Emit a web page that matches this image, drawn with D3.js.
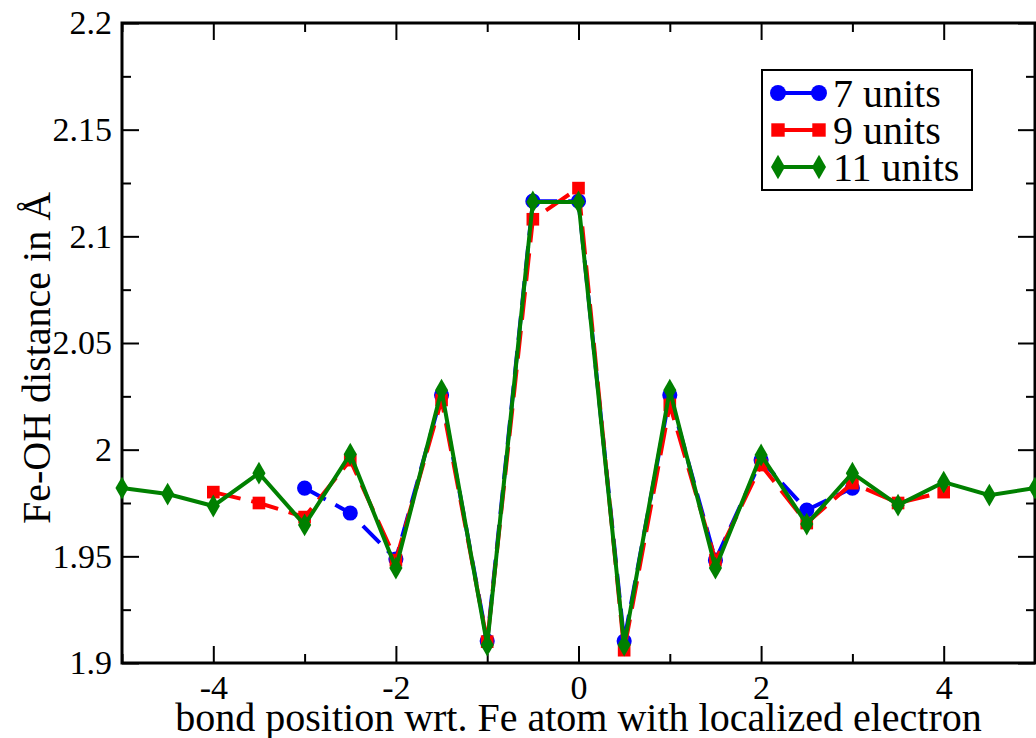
<!DOCTYPE html>
<html lang="en">
  <head>
    <meta charset="utf-8" />
    <title>Fe-OH distance</title>
    <script src="https://d3js.org/d3.v7.min.js"></script>
    <style>
      body { margin: 0; background: #fff; }
    </style>
  </head>
  <body>
    <div id="container"></div>
    <script>
      // bond positions for each cell size
      var pos7 = [-3, -2.5, -2, -1.5, -1, -0.5, 0, 0.5, 1, 1.5, 2, 2.5, 3];
      var val7 = [1.982, 1.9703, 1.9487, 2.0256, 1.9103, 2.1165, 2.1165, 1.9103, 2.0256, 1.9482, 1.9951, 1.9717, 1.982];

      var pos9 = [-4, -3.5, -3, -2.5, -2, -1.5, -1, -0.5, 0, 0.5, 1, 1.5, 2, 2.5, 3, 3.5, 4];
      var val9 = [1.9801, 1.975, 1.9684, 1.9951, 1.9482, 2.0233, 1.910, 2.108, 2.1226, 1.906, 2.021, 1.9482, 1.9928, 1.9656, 1.9843, 1.975, 1.9801];

      var pos11 = [-5, -4.5, -4, -3.5, -3, -2.5, -2, -1.5, -1, -0.5, 0, 0.5, 1, 1.5, 2, 2.5, 3, 3.5, 4, 4.5, 5];
      var val11 = [1.982, 1.9792, 1.9736, 1.989, 1.9647, 1.9979, 1.9445, 2.0279, 1.9084, 2.1161, 2.1161, 1.9084, 2.0279, 1.9445, 1.9975, 1.9651, 1.989, 1.974, 1.9848, 1.9787, 1.982];

      var seriesNames = ["7 units", "9 units", "11 units"];
      var xMajor = [-4, -2, 0, 2, 4];
      var xMinor = [-5, -3, -1, 1, 3, 5];
      var yMajor = [1.9, 1.95, 2, 2.05, 2.1, 2.15, 2.2];
      var yMinor = [1.925, 1.975, 2.025, 2.075, 2.125, 2.175];

      var serif = "'Liberation Serif', 'Times New Roman', Times, 'DejaVu Serif', serif";

      var width = 1036;
      var height = 738;
      var plotL = 122, plotR = 1035, plotT = 23, plotB = 663;

      var svg = d3.select("#container").append("svg")
        .attr("width", width)
        .attr("height", height);

      var x = d3.scaleLinear().domain([-5, 5]).range([plotL, plotR]);
      var y = d3.scaleLinear().domain([1.9, 2.2]).range([plotB, plotT]);

      function fmt(d) { return String(+d.toFixed(2)); }

      // axes with inward ticks on all four sides
      function axisGroup(axis, tx, ty, labels) {
        var g = svg.append("g").attr("transform", "translate(" + tx + "," + ty + ")").call(axis);
        g.attr("font-family", null).attr("font-size", null);
        g.select(".domain").remove();
        g.selectAll(".tick line").attr("stroke", "#000").attr("stroke-width", 2);
        if (!labels) g.selectAll(".tick text").remove();
        else g.selectAll(".tick text").style("font-size", "34px").style("font-family", serif).attr("fill", "#000");
        return g;
      }

      axisGroup(d3.axisBottom(x).tickValues(xMajor).tickSize(-17).tickPadding(12).tickFormat(fmt), 0, plotB, true);
      axisGroup(d3.axisBottom(x).tickValues(xMinor).tickSize(-9), 0, plotB, false);
      axisGroup(d3.axisTop(x).tickValues(xMajor).tickSize(-17), 0, plotT, false);
      axisGroup(d3.axisTop(x).tickValues(xMinor).tickSize(-9), 0, plotT, false);
      axisGroup(d3.axisLeft(y).tickValues(yMajor).tickSize(-17).tickPadding(10).tickFormat(fmt), plotL, 0, true);
      axisGroup(d3.axisLeft(y).tickValues(yMinor).tickSize(-9), plotL, 0, false);
      axisGroup(d3.axisRight(y).tickValues(yMajor).tickSize(-17), plotR, 0, false);
      axisGroup(d3.axisRight(y).tickValues(yMinor).tickSize(-9), plotR, 0, false);

      svg.append("rect")
        .attr("x", plotL).attr("y", plotT)
        .attr("width", plotR - plotL).attr("height", plotB - plotT)
        .attr("fill", "none").attr("stroke", "#000").attr("stroke-width", 3);

      // axis titles
      svg.append("text")
        .attr("x", (plotL + plotR) / 2).attr("y", 731)
        .attr("text-anchor", "middle")
        .style("font-family", serif).style("font-size", "40px")
        .text("bond position wrt. Fe atom with localized electron");

      svg.append("text")
        .attr("transform", "translate(50,358) rotate(-90)")
        .attr("text-anchor", "middle")
        .style("font-family", serif).style("font-size", "40px")
        .text("Fe-OH distance in Å");

      var line = d3.line().x(function (d) { return x(d[0]); }).y(function (d) { return y(d[1]); });

      var series = [
        { pos: pos7, val: val7, color: "#0000ff", dash: "24,11", shape: d3.symbolCircle, size: 180 },
        { pos: pos9, val: val9, color: "#ff0000", dash: "28,11", shape: d3.symbolSquare, size: 160 },
        { pos: pos11, val: val11, color: "#008000", dash: null, shape: d3.symbolDiamond, size: 150 }
      ];

      series.forEach(function (s) {
        var pts = s.pos.map(function (p, i) { return [p, s.val[i]]; });
        svg.append("path")
          .attr("d", line(pts))
          .attr("fill", "none")
          .attr("stroke", s.color)
          .attr("stroke-width", 4)
          .attr("stroke-dasharray", s.dash);
        svg.selectAll(null)
          .data(pts)
          .enter()
          .append("path")
          .attr("d", d3.symbol().type(s.shape).size(s.size))
          .attr("transform", function (d) { return "translate(" + x(d[0]) + "," + y(d[1]) + ")"; })
          .attr("fill", s.color);
      });

      // legend
      var key = svg.append("g");
      key.append("rect")
        .attr("x", 762).attr("y", 70).attr("width", 210).attr("height", 120)
        .attr("fill", "#fff").attr("stroke", "#000").attr("stroke-width", 2);

      var rowY = [93, 130, 167];
      series.forEach(function (s, i) {
        key.append("line")
          .attr("x1", 778).attr("x2", 819)
          .attr("y1", rowY[i]).attr("y2", rowY[i])
          .attr("stroke", s.color).attr("stroke-width", 4);
        [778, 819].forEach(function (mx) {
          key.append("path")
            .attr("d", d3.symbol().type(s.shape).size(s.size + 20))
            .attr("transform", "translate(" + mx + "," + rowY[i] + ")")
            .attr("fill", s.color);
        });
        key.append("text")
          .attr("x", 833).attr("y", rowY[i]).attr("dy", "0.35em")
          .style("font-family", serif).style("font-size", "40px")
          .text(seriesNames[i]);
      });
    </script>
  </body>
</html>
